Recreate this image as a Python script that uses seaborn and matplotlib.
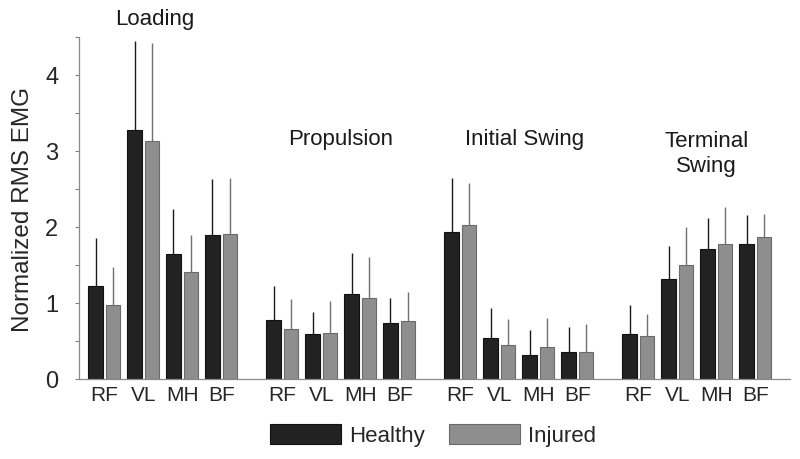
# EMG normalizado por fase da marcha - saudavel vs lesionado
import pandas as pd
import matplotlib
matplotlib.use("Agg")
import matplotlib.pyplot as plt
import seaborn as sns
from matplotlib.ticker import MultipleLocator
from matplotlib.patches import Patch

sns.set_style("white")
plt.rcParams['font.family'] = ['Liberation Sans', 'DejaVu Sans']

# Dados
phases = ['Loading', 'Propulsion', 'Initial Swing', 'Terminal\nSwing']
muscles = ['RF', 'VL', 'MH', 'BF']
groups = ['Healthy', 'Injured']

healthy_mean = [1.23, 3.28, 1.64, 1.89, 0.78, 0.59, 1.12, 0.74,
                1.94, 0.54, 0.32, 0.35, 0.59, 1.32, 1.71, 1.77]
healthy_sd = [0.63, 1.17, 0.60, 0.74, 0.44, 0.29, 0.54, 0.33,
              0.70, 0.39, 0.33, 0.34, 0.38, 0.43, 0.41, 0.39]
injured_mean = [0.97, 3.13, 1.41, 1.91, 0.66, 0.60, 1.07, 0.76,
                2.03, 0.45, 0.42, 0.36, 0.56, 1.50, 1.78, 1.87]
injured_sd = [0.51, 1.29, 0.49, 0.74, 0.39, 0.43, 0.53, 0.38,
              0.55, 0.34, 0.38, 0.37, 0.30, 0.50, 0.48, 0.30]

# Layout
group_step = 4.57
label_dx = [-0.2, 0.0, 0.15, 0.25]
colors = {'Healthy': '#222222', 'Injured': '#8e8e8e'}
edges = {'Healthy': '#111111', 'Injured': '#6a6a6a'}
err_colors = {'Healthy': '#1a1a1a', 'Injured': '#707070'}

# Montando tabela longa
rows = []
for i, ph in enumerate(phases):
    for j, m in enumerate(muscles):
        k = i * len(muscles) + j
        pos = i * group_step + j
        rows.append({'pos': pos, 'muscle': m, 'group': 'Healthy',
                     'value': healthy_mean[k], 'sd': healthy_sd[k]})
        rows.append({'pos': pos, 'muscle': m, 'group': 'Injured',
                     'value': injured_mean[k], 'sd': injured_sd[k]})
df = pd.DataFrame(rows).sort_values(['pos', 'group'])

fig = plt.figure(figsize=(8, 4.6), dpi=100)
ax = fig.add_axes([79 / 800, 1 - 380 / 460, (790 - 79) / 800, (380 - 38) / 460])

sns.barplot(data=df, x='pos', y='value', hue='group', hue_order=groups,
            native_scale=True, width=0.9, gap=0.18, palette=colors,
            saturation=1, errorbar=None, legend=False, ax=ax)

# Bordas e barras de erro (so para cima)
for g, cont in zip(groups, ax.containers):
    sub = df[df['group'] == g].sort_values('pos')
    for bar, sd in zip(cont, sub['sd']):
        bar.set_edgecolor(edges[g])
        bar.set_linewidth(0.8)
        xc = bar.get_x() + bar.get_width() / 2
        h = bar.get_height()
        ax.vlines(xc, h, h + sd, color=err_colors[g], lw=1.0, zorder=1)

# Eixos
ax.set_xlim(-0.65, 17.6)
ax.set_ylim(0, 4.5)
ticks = [i * group_step + j for i in range(len(phases)) for j in range(len(muscles))]
ax.set_xticks(ticks)
ax.set_xticklabels(muscles * len(phases), fontsize=15)
ax.tick_params(axis='x', length=0, pad=4)
ax.yaxis.set_major_locator(MultipleLocator(1))
ax.yaxis.set_minor_locator(MultipleLocator(0.5))
ax.tick_params(axis='y', which='both', length=3, width=0.8, color='#808080',
               left=True, labelsize=17, pad=12)
ax.set_xlabel('')
ax.set_ylabel('Normalized RMS EMG', fontsize=17.5, labelpad=8)
sns.despine(ax=ax)
for s in ['left', 'bottom']:
    ax.spines[s].set_color('#8a8a8a')
    ax.spines[s].set_linewidth(0.9)

# Titulos das fases
title_y = [4.74, 3.16, 3.16, 2.98]
for i, ph in enumerate(phases):
    xc = i * group_step + 1.5 + label_dx[i]
    ax.text(xc, title_y[i], ph, ha='center', va='center', fontsize=16,
            linespacing=1.25, clip_on=False, color='#1a1a1a')

# Legenda
handles = [Patch(facecolor=colors[g], edgecolor=edges[g], linewidth=0.8) for g in groups]
fig.legend(handles, groups, loc='center', bbox_to_anchor=(0.541, 0.052),
           ncol=2, frameon=False, fontsize=16, handlelength=3.2,
           handleheight=1.0, handletextpad=0.35, columnspacing=1.1)

plt.savefig('out.png', dpi=100)
